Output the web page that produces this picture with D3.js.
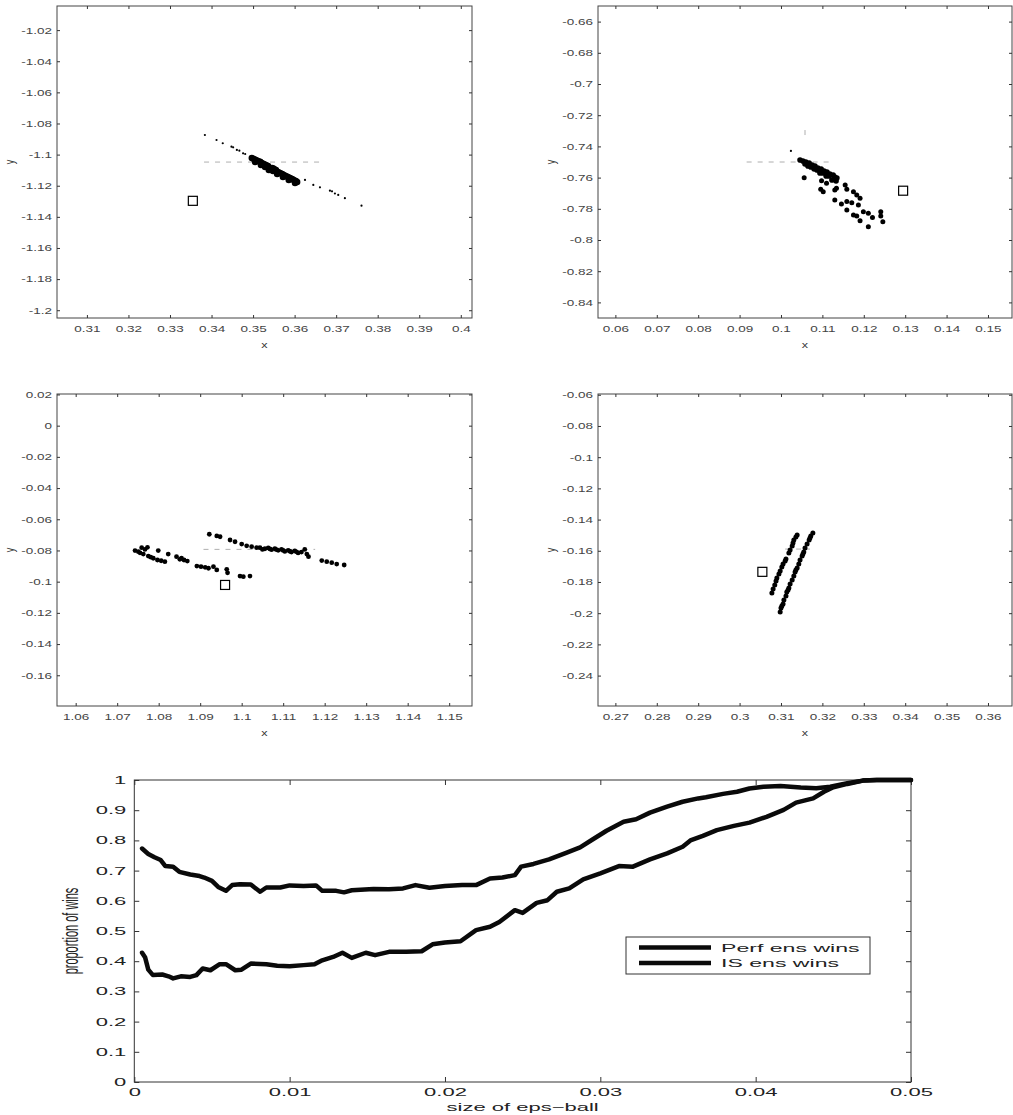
<!DOCTYPE html>
<html><head><meta charset="utf-8">
<script src="https://cdn.jsdelivr.net/npm/d3@7"></script>
<style>
body{margin:0;background:#fff}
svg{display:block}
text{font-family:"Liberation Sans",Arial,Helvetica,sans-serif}
</style>
</head><body>
<svg id="chart" width="1013" height="1115"></svg>
<script>
// ---------------- DATA ----------------
// Panel 1 (top-left)
const p1XDomain = [0.3028, 0.4027];
const p1YDomain = [-1.2050, -1.0045];
const p1XTicks = [0.31,0.32,0.33,0.34,0.35,0.36,0.37,0.38,0.39,0.4];
const p1YTicks = [-1.02,-1.04,-1.06,-1.08,-1.1,-1.12,-1.14,-1.16,-1.18,-1.2];
const p1Core = [[0.3497,-1.1022],[0.3502,-1.1028],[0.3507,-1.1035],[0.3505,-1.1047],[0.3512,-1.1041],
 [0.3517,-1.1047],[0.3521,-1.1054],[0.3519,-1.1067],[0.3526,-1.1060],[0.3531,-1.1067],[0.3529,-1.1080],
 [0.3536,-1.1073],[0.3541,-1.1086],[0.3538,-1.1099],[0.3546,-1.1086],[0.3550,-1.1092],[0.3548,-1.1105],
 [0.3555,-1.1099],[0.3560,-1.1112],[0.3558,-1.1125],[0.3565,-1.1118],[0.3570,-1.1125],[0.3574,-1.1131],
 [0.3572,-1.1144],[0.3579,-1.1137],[0.3584,-1.1144],[0.3589,-1.1150],[0.3586,-1.1163],[0.3594,-1.1157],
 [0.3598,-1.1163],[0.3603,-1.1170],[0.3601,-1.1182],[0.3606,-1.1176]];
const p1Tail = [[0.3384,-1.0874],[0.3412,-1.0906],[0.3427,-1.0927],[0.3448,-1.0949],[0.3452,-1.0953],
 [0.3461,-1.0970],[0.3467,-1.0975],[0.3476,-1.0992],[0.3481,-1.0996],[0.3625,-1.1163],[0.3645,-1.1195],
 [0.3661,-1.1210],[0.3685,-1.1232],[0.3690,-1.1236],[0.3697,-1.1250],[0.3705,-1.1259],[0.3721,-1.1280],
 [0.3761,-1.1328]];
const p1Square = [0.3355, -1.1297];
const p1GuideH = [0.3382, 0.3663, -1.1048];

// Panel 2 (top-right)
const p2XDomain = [0.0558, 0.1558];
const p2YDomain = [-0.8500, -0.6500];
const p2XTicks = [0.06,0.07,0.08,0.09,0.1,0.11,0.12,0.13,0.14,0.15];
const p2YTicks = [-0.66,-0.68,-0.7,-0.72,-0.74,-0.76,-0.78,-0.8,-0.82,-0.84];
const p2Core = [[0.1046,-0.7487],[0.1053,-0.7494],[0.1060,-0.7500],[0.1058,-0.7513],[0.1068,-0.7506],
 [0.1075,-0.7519],[0.1072,-0.7532],[0.1082,-0.7526],[0.1089,-0.7538],[0.1087,-0.7551],[0.1097,-0.7545],
 [0.1104,-0.7558],[0.1101,-0.7570],[0.1111,-0.7564],[0.1118,-0.7577],[0.1116,-0.7590],[0.1126,-0.7583],
 [0.1130,-0.7596],[0.1128,-0.7609],[0.1135,-0.7603],[0.1133,-0.7622],[0.1123,-0.7615],[0.1109,-0.7590],
 [0.1094,-0.7570],[0.1080,-0.7545],[0.1065,-0.7526]];
const p2Scatter = [[0.1056,-0.7601],[0.1098,-0.7620],[0.1096,-0.7675],[0.1102,-0.7690],
 [0.1110,-0.7637],[0.1130,-0.7679],[0.1134,-0.7669],[0.1155,-0.7647],[0.1159,-0.7675],[0.1175,-0.7690],
 [0.1183,-0.7711],[0.1191,-0.7733],[0.1130,-0.7744],[0.1146,-0.7769],[0.1159,-0.7754],[0.1171,-0.7761],
 [0.1187,-0.7776],[0.1159,-0.7808],[0.1175,-0.7840],[0.1183,-0.7846],[0.1199,-0.7819],[0.1211,-0.7829],
 [0.1221,-0.7855],[0.1191,-0.7876],[0.1211,-0.7915],[0.1241,-0.7819],[0.1241,-0.7846],[0.1246,-0.7883]];
const p2Lone = [[0.1024,-0.7429]];
const p2Square = [0.1295, -0.7684];
const p2GuideH = [0.0917, 0.1126, -0.7500];
const p2GuideV = [0.1058, -0.7295, -0.7365];

// Panel 3 (middle-left)
const p3XDomain = [1.0555, 1.1555];
const p3YDomain = [-0.1797, 0.0203];
const p3XTicks = [1.06,1.07,1.08,1.09,1.1,1.11,1.12,1.13,1.14,1.15];
const p3YTicks = [0.02,0,-0.02,-0.04,-0.06,-0.08,-0.1,-0.12,-0.14,-0.16];
const p3Points = [[1.0743,-0.0801],[1.0751,-0.0808],[1.0759,-0.0782],[1.0767,-0.0793],[1.0773,-0.0780],
 [1.0763,-0.0823],[1.0775,-0.0836],[1.0787,-0.0850],[1.0797,-0.0861],[1.0799,-0.0801],[1.0815,-0.0872],
 [1.0823,-0.0823],[1.0843,-0.0840],[1.0851,-0.0857],[1.0861,-0.0861],[1.0869,-0.0868],[1.0892,-0.0900],
 [1.0912,-0.0908],[1.0920,-0.0914],[1.0932,-0.0904],[1.0940,-0.0925],[1.0964,-0.0921],[1.0966,-0.0943],
 [1.0996,-0.0964],[1.1004,-0.0968],[1.1020,-0.0964],
 [1.0922,-0.0696],[1.0940,-0.0707],[1.0948,-0.0712],[1.0972,-0.0733],[1.0984,-0.0744],[1.1000,-0.0759],
 [1.1012,-0.0770],[1.1024,-0.0776],[1.1036,-0.0782],[1.1044,-0.0782],[1.1056,-0.0789],[1.1064,-0.0784],
 [1.1072,-0.0795],[1.1080,-0.0789],[1.1088,-0.0799],[1.1096,-0.0793],[1.1104,-0.0806],[1.1112,-0.0799],
 [1.1120,-0.0810],[1.1128,-0.0803],[1.1136,-0.0816],[1.1144,-0.0810],[1.1152,-0.0793],[1.1157,-0.0823],
 [1.1161,-0.0840],[1.1193,-0.0865],[1.1205,-0.0872],[1.1217,-0.0878],[1.1229,-0.0887],[1.1247,-0.0893],
 [1.1050,-0.0793],[1.1068,-0.0790],[1.1084,-0.0795],[1.1100,-0.0800],[1.1116,-0.0805],[1.1132,-0.0809],
 [1.0755,-0.0815],[1.0781,-0.0843],[1.0806,-0.0866],[1.0855,-0.0850],[1.0902,-0.0904]];
const p3Square = [1.0960, -0.1021];
const p3GuideH = [1.0908, 1.1177, -0.0793];

// Panel 4 (middle-right)
const p4XDomain = [0.2658, 0.3658];
const p4YDomain = [-0.2595, -0.0595];
const p4XTicks = [0.27,0.28,0.29,0.3,0.31,0.32,0.33,0.34,0.35,0.36];
const p4YTicks = [-0.06,-0.08,-0.1,-0.12,-0.14,-0.16,-0.18,-0.2,-0.22,-0.24];
const p4Points = [[0.3098,-0.1992],[0.3100,-0.1967],[0.3105,-0.1941],[0.3107,-0.1915],[0.3112,-0.1890],
 [0.3114,-0.1864],[0.3119,-0.1839],[0.3122,-0.1813],[0.3127,-0.1787],[0.3131,-0.1762],[0.3134,-0.1736],
 [0.3139,-0.1710],[0.3143,-0.1685],[0.3146,-0.1659],[0.3151,-0.1633],[0.3155,-0.1608],[0.3158,-0.1582],
 [0.3163,-0.1557],[0.3168,-0.1531],[0.3172,-0.1505],[0.3177,-0.1486],[0.3102,-0.1954],[0.3117,-0.1851],
 [0.3136,-0.1723],[0.3153,-0.1621],[0.3170,-0.1518],
 [0.3078,-0.1871],[0.3081,-0.1845],[0.3085,-0.1819],[0.3088,-0.1794],[0.3090,-0.1774],[0.3095,-0.1749],
 [0.3098,-0.1730],[0.3102,-0.1704],[0.3105,-0.1685],[0.3110,-0.1665],[0.3112,-0.1653],
 [0.3119,-0.1614],[0.3122,-0.1595],[0.3127,-0.1569],[0.3129,-0.1550],[0.3131,-0.1531],[0.3136,-0.1512],
 [0.3139,-0.1499]];
const p4Square = [0.3055, -0.1735];
const p4GuideH = [0.3110, 0.3170, -0.1589];

// Bottom chart
const winsXTicks = [0, 0.01, 0.02, 0.03, 0.04, 0.05];
const winsYTicks = [0,0.1,0.2,0.3,0.4,0.5,0.6,0.7,0.8,0.9,1];
const seriesNames = ["Perf ens wins", "IS ens wins"];
const perfX = [0.0005,0.0009,0.0013,0.0017,0.0020,0.0025,0.0029,0.0036,0.0042,0.0045,0.0050,0.0054,0.0059,
 0.0063,0.0068,0.0075,0.0081,0.0085,0.0094,0.0100,0.0109,0.0117,0.0121,0.0130,0.0135,0.0140,0.0154,0.0164,
 0.0173,0.0181,0.0190,0.0200,0.0211,0.0220,0.0229,0.0237,0.0245,0.0249,0.0257,0.0267,0.0278,0.0287,0.0295,
 0.0304,0.0315,0.0323,0.0332,0.0343,0.0353,0.0363,0.0368,0.0379,0.0388,0.0396,0.0405,0.0416,0.0429,0.0439,
 0.0448,0.0459,0.0469,0.0478,0.0500];
const perfY = [0.773,0.755,0.744,0.735,0.715,0.713,0.696,0.687,0.682,0.677,0.666,0.646,0.633,
 0.652,0.655,0.654,0.630,0.644,0.644,0.651,0.649,0.651,0.633,0.633,0.628,0.635,0.639,0.638,
 0.641,0.652,0.643,0.649,0.652,0.652,0.674,0.677,0.685,0.713,0.722,0.737,0.759,0.777,0.803,
 0.832,0.862,0.870,0.892,0.912,0.928,0.939,0.943,0.954,0.961,0.972,0.978,0.980,0.975,0.973,
 0.978,0.989,0.998,1.0,1.0];
const isX = [0.0005,0.0007,0.0009,0.0012,0.0018,0.0022,0.0025,0.0030,0.0036,0.0040,0.0044,0.0049,0.0055,
 0.0059,0.0065,0.0069,0.0075,0.0085,0.0092,0.0100,0.0109,0.0116,0.0121,0.0128,0.0134,0.0140,0.0149,0.0155,
 0.0164,0.0175,0.0185,0.0192,0.0200,0.0210,0.0220,0.0229,0.0235,0.0245,0.0250,0.0259,0.0266,0.0272,0.0280,
 0.0289,0.0300,0.0312,0.0321,0.0332,0.0343,0.0353,0.0358,0.0366,0.0375,0.0386,0.0396,0.0407,0.0418,0.0426,
 0.0437,0.0444,0.0450,0.0459,0.0469,0.0478,0.0500];
const isY = [0.428,0.412,0.372,0.354,0.356,0.350,0.343,0.350,0.348,0.354,0.376,0.370,0.390,
 0.390,0.370,0.372,0.392,0.390,0.385,0.383,0.387,0.390,0.403,0.414,0.428,0.411,0.428,0.420,
 0.431,0.431,0.433,0.456,0.462,0.466,0.503,0.514,0.530,0.569,0.560,0.593,0.602,0.630,0.641,
 0.671,0.691,0.715,0.713,0.737,0.757,0.779,0.800,0.815,0.834,0.848,0.859,0.878,0.901,0.925,
 0.939,0.961,0.976,0.987,0.998,1.0,1.0];

// ---------------- DRAWING ----------------
const svg = d3.select("#chart");
const fmt = d => String(+d.toFixed(4));

function stretchText(parent, x, y, str, size, sx, anchor, rot, fill) {
  return parent.append("text")
    .attr("transform", `translate(${x},${y}) scale(${sx},1)` + (rot ? ` rotate(${rot})` : ""))
    .attr("text-anchor", anchor || "middle")
    .attr("font-size", size)
    .attr("fill", fill || "#222")
    .text(str);
}

function styleAxis(g, size, fill) {
  g.attr("font-size", null).attr("font-family", null);
  g.select(".domain").remove();
  g.selectAll(".tick line").attr("stroke", "#333");
  g.selectAll(".tick text").attr("font-size", size).attr("fill", fill);
}

function drawPanel(box, xd, yd, xt, yt, dotsList, square, guides) {
  const x = d3.scaleLinear().domain(xd).range([box.x0, box.x1]);
  const y = d3.scaleLinear().domain(yd).range([box.y1, box.y0]);
  const g = svg.append("g");
  const sx = 1.5, fs = 9, tfill = "#444";

  guides.forEach(gd => {
    const l = gd.type === "h"
      ? {x1: x(gd.v[0]), x2: x(gd.v[1]), y1: y(gd.v[2]), y2: y(gd.v[2])}
      : {x1: x(gd.v[0]), x2: x(gd.v[0]), y1: y(gd.v[1]), y2: y(gd.v[2])};
    g.append("line").attr("x1", l.x1).attr("x2", l.x2).attr("y1", l.y1).attr("y2", l.y2)
      .attr("stroke", "#9a9a9a").attr("stroke-width", 0.8).attr("stroke-dasharray", "5,6");
  });

  g.append("rect").attr("x", box.x0).attr("y", box.y0)
    .attr("width", box.x1 - box.x0).attr("height", box.y1 - box.y0)
    .attr("fill", "none").attr("stroke", "#444").attr("stroke-width", 1);

  const gb = g.append("g").attr("transform", `translate(0,${box.y1})`)
    .call(d3.axisBottom(x).tickValues(xt).tickFormat(fmt).tickSize(-3).tickSizeOuter(0).tickPadding(8));
  styleAxis(gb, fs, tfill);
  gb.selectAll(".tick text").attr("transform", `scale(${sx},1)`);

  const gl = g.append("g").attr("transform", `translate(${box.x0},0)`)
    .call(d3.axisLeft(y).tickValues(yt).tickFormat(fmt).tickSize(-3).tickSizeOuter(0).tickPadding(5));
  styleAxis(gl, fs, tfill);
  gl.selectAll(".tick text").attr("x", -5 / sx).attr("transform", `scale(${sx},1)`);

  const gt = g.append("g").attr("transform", `translate(0,${box.y0})`)
    .call(d3.axisTop(x).tickValues(xt).tickFormat("").tickSize(-3).tickSizeOuter(0));
  styleAxis(gt, fs, tfill);
  const gr = g.append("g").attr("transform", `translate(${box.x1},0)`)
    .call(d3.axisRight(y).tickValues(yt).tickFormat("").tickSize(-3).tickSizeOuter(0));
  styleAxis(gr, fs, tfill);

  stretchText(g, (box.x0 + box.x1) / 2, box.y1 + 30, "x", 9, 1.4, "middle", 0, "#333");
  stretchText(g, box.x0 - 43, (box.y0 + box.y1) / 2, "y", 9, 1.4, "middle", -90, "#333");

  dotsList.forEach(dl => {
    g.append("g").selectAll("circle").data(dl.pts).join("circle")
      .attr("cx", d => x(d[0])).attr("cy", d => y(d[1])).attr("r", dl.r).attr("fill", "#000");
  });

  g.append("rect").attr("x", x(square[0]) - 4.5).attr("y", y(square[1]) - 4.5)
    .attr("width", 9).attr("height", 9).attr("fill", "#fff")
    .attr("stroke", "#000").attr("stroke-width", 1.2);
}

drawPanel({x0:57, x1:472, y0:6, y1:318}, p1XDomain, p1YDomain, p1XTicks, p1YTicks,
  [{pts: p1Tail, r: 1.1}, {pts: p1Core, r: 3.3}], p1Square, [{type:"h", v:p1GuideH}]);
drawPanel({x0:598, x1:1012, y0:6, y1:318}, p2XDomain, p2YDomain, p2XTicks, p2YTicks,
  [{pts: p2Core, r: 2.8}, {pts: p2Scatter, r: 2.5}, {pts: p2Lone, r: 1.1}], p2Square,
  [{type:"h", v:p2GuideH}, {type:"v", v:p2GuideV}]);
drawPanel({x0:57, x1:472, y0:394, y1:706}, p3XDomain, p3YDomain, p3XTicks, p3YTicks,
  [{pts: p3Points, r: 2.4}], p3Square, [{type:"h", v:p3GuideH}]);
drawPanel({x0:598, x1:1012, y0:394, y1:706}, p4XDomain, p4YDomain, p4XTicks, p4YTicks,
  [{pts: p4Points, r: 2.5}], p4Square, [{type:"h", v:p4GuideH}]);

// ---- bottom chart ----
(function () {
  const box = {x0: 134.3, x1: 911, y0: 780, y1: 1082};
  const x = d3.scaleLinear().domain([0, 0.05]).range([box.x0, box.x1]);
  const y = d3.scaleLinear().domain([0, 1]).range([box.y1, box.y0]);
  const g = svg.append("g");
  const sx = 2.0, fs = 11, tfill = "#222";

  g.append("rect").attr("x", box.x0).attr("y", box.y0)
    .attr("width", box.x1 - box.x0).attr("height", box.y1 - box.y0)
    .attr("fill", "none").attr("stroke", "#333").attr("stroke-width", 1);

  const gb = g.append("g").attr("transform", `translate(0,${box.y1})`)
    .call(d3.axisBottom(x).tickValues(winsXTicks).tickFormat(fmt).tickSize(-5).tickSizeOuter(0).tickPadding(6));
  styleAxis(gb, fs, tfill);
  gb.selectAll(".tick text").attr("transform", `scale(${sx},1)`);

  const gl = g.append("g").attr("transform", `translate(${box.x0},0)`)
    .call(d3.axisLeft(y).tickValues(winsYTicks).tickFormat(fmt).tickSize(-5).tickSizeOuter(0));
  styleAxis(gl, fs, tfill);
  gl.selectAll(".tick text").attr("x", -8 / sx).attr("transform", `scale(${sx},1)`);

  const gt = g.append("g").attr("transform", `translate(0,${box.y0})`)
    .call(d3.axisTop(x).tickValues(winsXTicks).tickFormat("").tickSize(-5).tickSizeOuter(0));
  styleAxis(gt, fs, tfill);
  const gr = g.append("g").attr("transform", `translate(${box.x1},0)`)
    .call(d3.axisRight(y).tickValues(winsYTicks).tickFormat("").tickSize(-5).tickSizeOuter(0));
  styleAxis(gr, fs, tfill);

  const line = d3.line().x(d => x(d[0])).y(d => y(d[1]));
  const series = [d3.zip(perfX, perfY), d3.zip(isX, isY)];
  g.selectAll("path.series").data(series).join("path").attr("class", "series")
    .attr("d", line).attr("fill", "none").attr("stroke", "#0a0a0a")
    .attr("stroke-width", 4.5).attr("stroke-linejoin", "round").attr("stroke-linecap", "round");

  stretchText(g, (box.x0 + box.x1) / 2, 1111, "size of eps\u2212ball", 11, 2.0, "middle", 0, "#222");
  stretchText(g, 78, (box.y0 + box.y1) / 2, "proportion of wins", 11, 2.0, "middle", -90, "#222");

  const lg = g.append("g");
  lg.append("rect").attr("x", 626).attr("y", 937).attr("width", 244).attr("height", 37)
    .attr("fill", "#fff").attr("stroke", "#333").attr("stroke-width", 1);
  const rows = [947.5, 963];
  seriesNames.forEach((name, i) => {
    lg.append("line").attr("x1", 639).attr("x2", 711).attr("y1", rows[i]).attr("y2", rows[i])
      .attr("stroke", "#0a0a0a").attr("stroke-width", 4.5);
    stretchText(lg, 721, rows[i] + 4, name, 11, 2.1, "start", 0, "#222");
  });
})();
</script>
</body></html>
